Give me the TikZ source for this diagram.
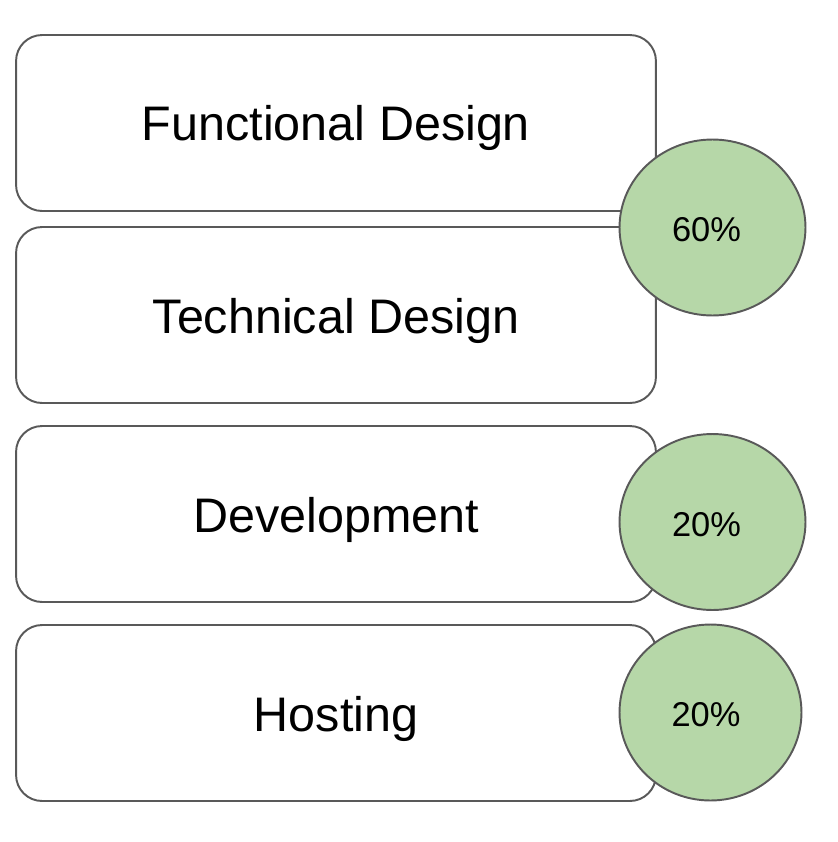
\documentclass[tikz,border=0pt]{standalone}
\usepackage{fontspec}
\setmainfont{Liberation Sans}
\usetikzlibrary{shapes.geometric}
\definecolor{edgegray}{HTML}{595959}
\definecolor{sharegreen}{HTML}{B6D7A8}

\begin{document}
\begin{tikzpicture}[x=0.02cm,y=-0.02cm,
  phase/.style={draw=edgegray,line width=1.1pt,fill=white,rounded corners=0.52cm,
    minimum width=12.8cm,minimum height=3.52cm,inner sep=0pt,
    text height=0.72cm,text depth=0pt,
    font=\fontsize{27.6pt}{33pt}\selectfont},
  share/.style={ellipse,draw=edgegray,line width=1.1pt,fill=sharegreen,inner sep=0pt,
    minimum width=3.72cm,minimum height=3.52cm,
    text height=0.57cm,text depth=0pt,
    font=\fontsize{19.6pt}{24pt}\selectfont}]
\useasboundingbox (0,0) rectangle (838,842);
% phases
\node[phase] (func) at (336,123) {Functional Design};
\node[phase] (tech) at (336,315) {Technical Design};
\node[phase] (dev) at (336,514) {Development};
\node[phase] (host) at (336,713) {Hosting};
% shares
\node[share] (pfunc) at (712.5,227.5) {60\%\kern0.24cm};
\node[share] (pdev) at (712.5,522) {20\%\kern0.24cm};
\node[share,minimum width=3.64cm] (phost) at (710.5,712.5) {20\%\kern0.18cm};
\end{tikzpicture}
\end{document}
